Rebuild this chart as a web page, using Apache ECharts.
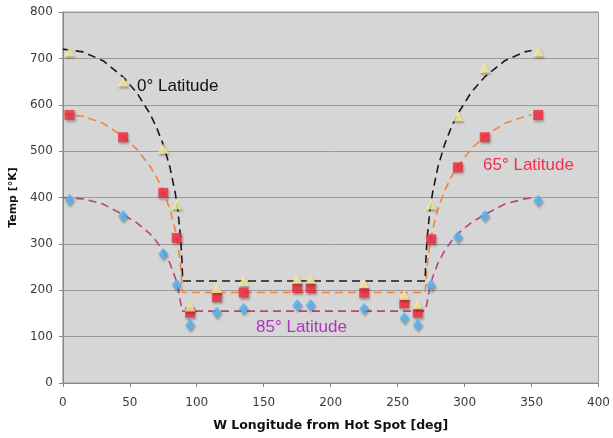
<!DOCTYPE html>
<html>
<head>
<meta charset="utf-8">
<script src="https://cdn.jsdelivr.net/npm/echarts@6/dist/echarts.min.js"></script>
<style>
  html, body { margin: 0; padding: 0; background: #fff; }
  #chart { width: 613px; height: 438px; }
</style>
</head>
<body>
<div id="chart"></div>
<script>
// Measured temperatures [K] at each west longitude [deg]
const longitudes = [5, 45, 75, 85, 95, 115, 135, 175, 185, 225, 255, 265, 275, 295, 315, 355];
const tempLat0  = [715, 650, 505, 385, 165, 205, 220, 225, 225, 215, 190, 170, 385, 575, 680, 715];
const tempLat65 = [578, 530, 410, 313, 152, 185, 195, 205, 205, 195, 172, 152, 310, 465, 530, 578];
const tempLat85 = [395, 360, 278, 212, 125, 152, 160, 168, 168, 160, 140, 125, 210, 315, 360, 393];

// Model curves: longitude and temperature pairs
const modelLon = [0, 15, 30, 45, 55, 65, 70, 75, 80, 84, 86, 88, 89, 89.5, 270.5, 271, 272, 274, 276, 280, 285, 290, 295, 305, 315, 330, 345, 350];
const modelLat0  = [720, 714, 695, 660, 627, 581, 551, 514, 465, 409, 370, 311, 262, 220, 220, 262, 311, 370, 409, 465, 514, 551, 581, 627, 660, 695, 714, 717];
const modelLat65 = [580, 575, 560, 532, 505, 468, 444, 414, 374, 330, 298, 251, 211, 195, 195, 211, 251, 298, 330, 374, 414, 444, 468, 505, 532, 560, 575, 578];
const modelLat85 = [400, 397, 386, 363, 346, 322, 305, 285, 258, 227, 206, 173, 155, 155, 155, 155, 173, 206, 227, 258, 285, 305, 322, 346, 363, 386, 397, 399];

const xTicks = [0, 50, 100, 150, 200, 250, 300, 350, 400];
const yTicks = [0, 100, 200, 300, 400, 500, 600, 700, 800];

const pairs = (xs, ys) => xs.map((x, i) => [x, ys[i]]);

const markerShadow = {
  shadowColor: 'rgba(0,0,0,0.35)',
  shadowBlur: 2,
  shadowOffsetX: 1,
  shadowOffsetY: 2
};

function curve(name, values, color) {
  return {
    name, type: 'line', data: pairs(modelLon, values),
    showSymbol: false, symbol: 'none', silent: true, z: 2,
    lineStyle: { color, width: 1.6, type: [8, 5] }
  };
}

function points(name, values, symbol, size, color) {
  return {
    name, type: 'scatter', data: pairs(longitudes, values),
    symbol, symbolSize: size, z: 3,
    itemStyle: Object.assign({ color }, markerShadow)
  };
}

const chart = echarts.init(document.getElementById('chart'), null, { renderer: 'canvas' });
const tickFont = { fontFamily: 'DejaVu Sans', fontSize: 12, color: '#3a3a3a' };
const noteFont = '17px "Liberation Sans", Arial, sans-serif';

chart.setOption({
  animation: false,
  backgroundColor: '#fff',
  grid: {
    left: 60, right: 14, top: 12, bottom: 55,
    show: true, backgroundColor: '#d6d6d6', borderColor: '#9a9a9a', borderWidth: 1
  },
  xAxis: {
    type: 'value', min: xTicks[0], max: xTicks[xTicks.length - 1], interval: 50,
    name: 'W Longitude from Hot Spot [deg]', nameLocation: 'middle', nameGap: 36,
    nameTextStyle: { fontFamily: 'DejaVu Sans', fontWeight: 'bold', fontSize: 12.5, color: '#111' },
    axisLine: { lineStyle: { color: '#888' } },
    axisTick: { show: true, length: 4, lineStyle: { color: '#888' } },
    axisLabel: Object.assign({ margin: 14 }, tickFont),
    splitLine: { show: false }
  },
  yAxis: {
    type: 'value', min: yTicks[0], max: yTicks[yTicks.length - 1], interval: 100,
    name: 'Temp [°K]', nameLocation: 'middle', nameGap: 40,
    nameTextStyle: { fontFamily: 'DejaVu Sans', fontWeight: 'bold', fontSize: 11, color: '#111' },
    axisLine: { show: true, lineStyle: { color: '#888' } },
    axisTick: { show: true, length: 4, lineStyle: { color: '#888' } },
    axisLabel: Object.assign({ margin: 10 }, tickFont),
    splitLine: { show: true, lineStyle: { color: '#9a9a9a', width: 1 } }
  },
  series: [
    curve('Model 85°', modelLat85, '#b8457e'),
    curve('Model 65°', modelLat65, '#f2843c'),
    curve('Model 0°', modelLat0, '#1a1a1a'),
    points('85° Latitude', tempLat85, 'diamond', [10, 12], '#56b3f0'),
    points('65° Latitude', tempLat65, 'rect', 10, '#f5283a'),
    points('0° Latitude', tempLat0, 'triangle', [11, 10], '#f7ec9a')
  ],
  graphic: [
    { type: 'text', left: 137, top: 78, style: { text: '0° Latitude', fill: '#111', font: noteFont } },
    { type: 'text', left: 483, top: 157, style: { text: '65° Latitude', fill: '#f0304c', font: noteFont } },
    { type: 'text', left: 256, top: 319, style: { text: '85° Latitude', fill: '#b232c2', font: noteFont } }
  ]
});
</script>
</body>
</html>
